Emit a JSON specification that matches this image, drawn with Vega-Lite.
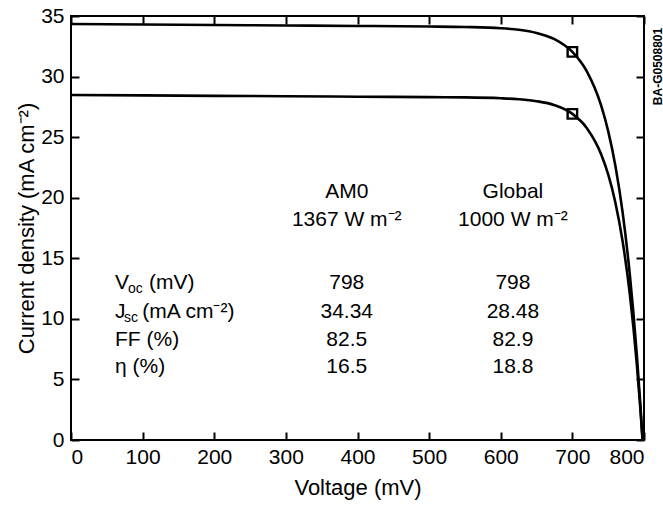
{
  "$schema": "https://vega.github.io/schema/vega-lite/v6.json",
  "autosize": "none",
  "width": 573,
  "height": 424,
  "padding": {"left": 71, "top": 16, "right": 19, "bottom": 66},
  "background": "white",
  "datasets": {
    "curves": [
      {"V": 0, "J": 34.34, "series": "AM0"},
      {"V": 100, "J": 34.30, "series": "AM0"},
      {"V": 200, "J": 34.26, "series": "AM0"},
      {"V": 300, "J": 34.22, "series": "AM0"},
      {"V": 400, "J": 34.18, "series": "AM0"},
      {"V": 500, "J": 34.13, "series": "AM0"},
      {"V": 550, "J": 34.09, "series": "AM0"},
      {"V": 600, "J": 33.99, "series": "AM0"},
      {"V": 625, "J": 33.86, "series": "AM0"},
      {"V": 650, "J": 33.60, "series": "AM0"},
      {"V": 675, "J": 33.09, "series": "AM0"},
      {"V": 700, "J": 32.04, "series": "AM0"},
      {"V": 720, "J": 30.45, "series": "AM0"},
      {"V": 740, "J": 27.64, "series": "AM0"},
      {"V": 750, "J": 25.50, "series": "AM0"},
      {"V": 760, "J": 22.65, "series": "AM0"},
      {"V": 770, "J": 18.85, "series": "AM0"},
      {"V": 780, "J": 13.77, "series": "AM0"},
      {"V": 790, "J": 7.00, "series": "AM0"},
      {"V": 795, "J": 2.82, "series": "AM0"},
      {"V": 798, "J": 0, "series": "AM0"},
      {"V": 0, "J": 28.48, "series": "Global"},
      {"V": 100, "J": 28.45, "series": "Global"},
      {"V": 200, "J": 28.41, "series": "Global"},
      {"V": 300, "J": 28.38, "series": "Global"},
      {"V": 400, "J": 28.34, "series": "Global"},
      {"V": 500, "J": 28.30, "series": "Global"},
      {"V": 550, "J": 28.28, "series": "Global"},
      {"V": 600, "J": 28.21, "series": "Global"},
      {"V": 625, "J": 28.13, "series": "Global"},
      {"V": 650, "J": 27.97, "series": "Global"},
      {"V": 675, "J": 27.64, "series": "Global"},
      {"V": 700, "J": 26.92, "series": "Global"},
      {"V": 720, "J": 25.76, "series": "Global"},
      {"V": 740, "J": 23.61, "series": "Global"},
      {"V": 750, "J": 21.92, "series": "Global"},
      {"V": 760, "J": 19.61, "series": "Global"},
      {"V": 770, "J": 16.45, "series": "Global"},
      {"V": 780, "J": 12.14, "series": "Global"},
      {"V": 790, "J": 6.24, "series": "Global"},
      {"V": 795, "J": 2.52, "series": "Global"},
      {"V": 798, "J": 0, "series": "Global"}
    ],
    "markers": [
      {"V": 700, "J": 32.04, "series": "AM0"},
      {"V": 700, "J": 26.92, "series": "Global"}
    ],
    "centered": [
      {"x": 385, "y": 20.5, "t": "AM0"},
      {"x": 385, "y": 18.2, "t": "1367 W m⁻²"},
      {"x": 617, "y": 20.5, "t": "Global"},
      {"x": 617, "y": 18.2, "t": "1000 W m⁻²"},
      {"x": 385, "y": 12.94, "t": "798"},
      {"x": 385, "y": 10.59, "t": "34.34"},
      {"x": 385, "y": 8.25, "t": "82.5"},
      {"x": 385, "y": 6.05, "t": "16.5"},
      {"x": 617, "y": 12.94, "t": "798"},
      {"x": 617, "y": 10.59, "t": "28.48"},
      {"x": 617, "y": 8.25, "t": "82.9"},
      {"x": 617, "y": 6.05, "t": "18.8"}
    ],
    "lefts": [
      {"x": 61.4, "y": 12.94, "t": "V"},
      {"x": 108.9, "y": 12.94, "t": "(mV)"},
      {"x": 61.4, "y": 10.59, "t": "J"},
      {"x": 99.5, "y": 10.59, "t": "(mA cm⁻²)"},
      {"x": 61.4, "y": 8.25, "t": "FF (%)"},
      {"x": 61.4, "y": 6.05, "t": "η (%)"}
    ],
    "subs": [
      {"x": 79.6, "y": 12.94, "t": "oc"},
      {"x": 74.0, "y": 10.59, "t": "sc"}
    ]
  },
  "layer": [
    {
      "data": {"name": "curves"},
      "mark": {"type": "line", "color": "black", "strokeWidth": 2.6, "interpolate": "monotone", "clip": true},
      "encoding": {
        "x": {"field": "V", "type": "quantitative",
              "scale": {"domain": [0, 800], "nice": false, "zero": false},
              "axis": {"orient": "bottom", "values": [0,100,200,300,400,500,600,700,800], "title": "Voltage (mV)", "titlePadding": 10, "labelPadding": 14}},
        "y": {"field": "J", "type": "quantitative",
              "scale": {"domain": [0, 35], "nice": false, "zero": false},
              "axis": {"orient": "left", "values": [0,5,10,15,20,25,30,35], "title": "Current density (mA cm⁻²)", "titlePadding": 2, "labelPadding": 15}},
        "detail": {"field": "series"}
      }
    },
    {
      "data": {"name": "markers"},
      "mark": {"type": "point", "shape": "square", "filled": false, "size": 90, "strokeWidth": 2.4, "color": "black", "opacity": 1},
      "encoding": {
        "x": {"field": "V", "type": "quantitative",
              "axis": {"orient": "top", "values": [0,100,200,300,400,500,600,700,800], "labels": false, "title": null}},
        "y": {"field": "J", "type": "quantitative",
              "axis": {"orient": "right", "values": [0,5,10,15,20,25,30,35], "labels": false, "title": "BA-G0508801", "titleAngle": 270, "titleX": 13, "titleY": 50, "titleAlign": "center", "titleBaseline": "middle", "titleFontSize": 12, "titleFontWeight": "bold"}}
      }
    },
    {
      "data": {"name": "centered"},
      "mark": {"type": "text", "baseline": "middle", "align": "center", "fontSize": 21},
      "encoding": {
        "x": {"field": "x", "type": "quantitative", "axis": null},
        "y": {"field": "y", "type": "quantitative", "axis": null},
        "text": {"field": "t"}
      }
    },
    {
      "data": {"name": "lefts"},
      "mark": {"type": "text", "baseline": "middle", "align": "left", "fontSize": 21},
      "encoding": {
        "x": {"field": "x", "type": "quantitative", "axis": null},
        "y": {"field": "y", "type": "quantitative", "axis": null},
        "text": {"field": "t"}
      }
    },
    {
      "data": {"name": "subs"},
      "mark": {"type": "text", "baseline": "middle", "align": "left", "fontSize": 14, "dy": 6},
      "encoding": {
        "x": {"field": "x", "type": "quantitative", "axis": null},
        "y": {"field": "y", "type": "quantitative", "axis": null},
        "text": {"field": "t"}
      }
    }
  ],
  "resolve": {"axis": {"x": "independent", "y": "independent"}},
  "config": {
    "view": {"stroke": "black", "strokeWidth": 2},
    "axis": {
      "domain": false, "grid": false, "ticks": true,
      "tickColor": "black", "tickWidth": 2, "tickSize": -8,
      "labelFont": "Liberation Sans", "labelFontSize": 21, "labelColor": "black",
      "titleFont": "Liberation Sans", "titleFontSize": 22, "titleFontWeight": "normal", "titleColor": "black"
    },
    "text": {"font": "Liberation Sans", "fontSize": 21, "color": "black"}
  }
}
